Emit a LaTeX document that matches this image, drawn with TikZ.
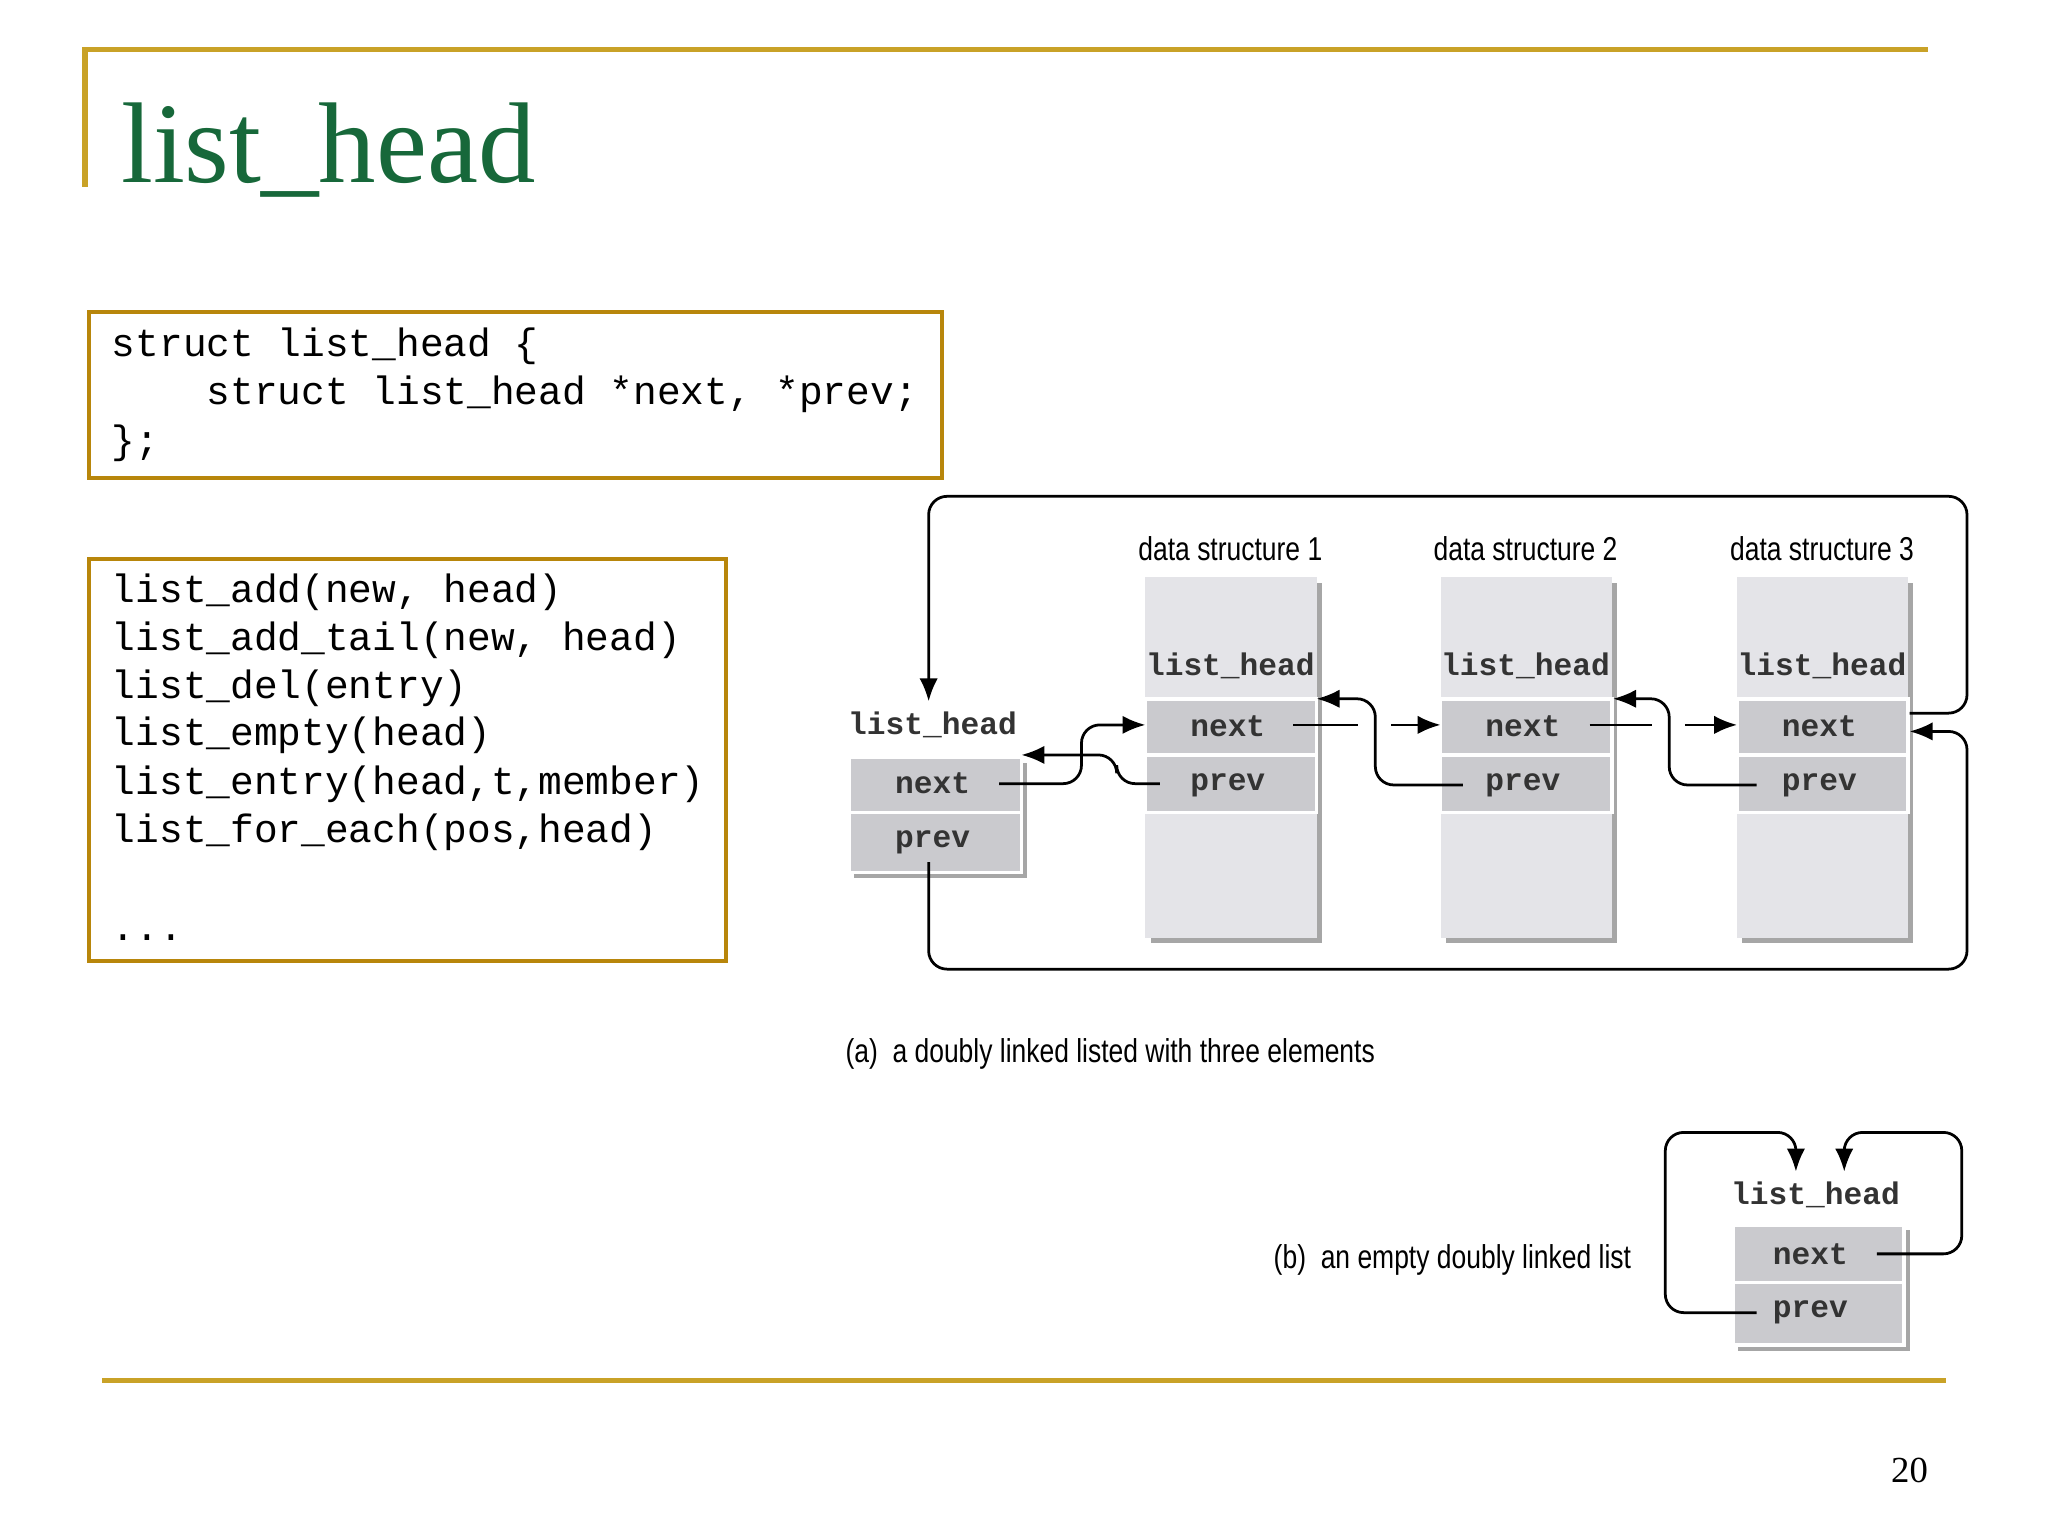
\documentclass[tikz,border=0pt]{standalone}
\usepackage{fontspec}
\setmainfont{Liberation Serif}
\newfontfamily\codefont{Liberation Mono}
\newfontfamily\figfont{Liberation Sans}[FakeStretch=0.8]
\usetikzlibrary{arrows.meta}
\definecolor{gold}{HTML}{C9A227}
\definecolor{boxline}{HTML}{B8860B}
\definecolor{titlegreen}{HTML}{17683A}
\definecolor{cellgray}{HTML}{CACACE}
\definecolor{colgray}{HTML}{E4E4E8}
\tikzset{
  code/.style={anchor=base west,font=\codefont\fontsize{8.6}{10}\selectfont,inner sep=0pt},
  lbl/.style={font=\figfont\fontsize{7.2}{9}\selectfont,inner sep=0pt},
  field/.style={font=\codefont\bfseries\fontsize{6.8}{8}\selectfont,inner sep=0pt,text=black!80},
  cell/.style={fill=cellgray,draw=white,line width=0.8pt},
  column/.style={fill=colgray,draw=none},
  link/.style={line width=0.6pt,rounded corners=4pt},
  arr/.style={link,-{Latex[length=5pt,width=4pt]}}
}
\begin{document}
\begin{tikzpicture}[x=0.01cm,y=-0.01cm]
	\useasboundingbox (0,0) rectangle (1568,1176);
	% frame lines
	\draw[gold,line width=1.2pt] (65,143)--(65,38)--(1476,38);
	\draw[gold,line width=1.2pt] (78,1057)--(1490,1057);
	\node[anchor=base west,text=titlegreen,font=\fontsize{25}{30}\selectfont,inner sep=0pt] (title) at (92,140) {list\_head};
	\node[anchor=base,font=\fontsize{8}{9}\selectfont] (page) at (1462,1135) {20};
	% code boxes
	\draw[boxline,line width=0.8pt] (68,239) rectangle (721,366);
	\node[code] (c1) at (85,273) {struct list\_head \{};
	\node[code] (c2) at (85,310) {\ \ \ \ struct list\_head *next, *prev;};
	\node[code] (c3) at (85,347) {\};};
	\draw[boxline,line width=0.8pt] (68,428) rectangle (556,736);
	\node[code] (f1) at (85,461) {list\_add(new, head)};
	\node[code] (f2) at (85,498) {list\_add\_tail(new, head)};
	\node[code] (f3) at (85,535) {list\_del(entry)};
	\node[code] (f4) at (85,571) {list\_empty(head)};
	\node[code] (f5) at (85,608) {list\_entry(head,t,member)};
	\node[code] (f6) at (85,645) {list\_for\_each(pos,head)};
	\node[code] (f7) at (85,720) {...};
	% (a) head node
	\fill[gray!70] (654,584) rectangle (786,672);
	\draw[cell] (650,580) rectangle (782,622);
	\draw[cell] (650,622) rectangle (782,668);
	\node[field] (hh) at (714,555) {list\_head};
	\node[field] (hn) at (714,600) {next};
	\node[field] (hp) at (714,645) {prev};
	% data structures
	\foreach \x/\n in {877/1,1103/2,1330/3}{
		\fill[gray!70] (\x+4,446) rectangle (\x+135,722);
		\fill[column] (\x,442) rectangle (\x+131,718);
		\draw[cell] (\x,535) rectangle (\x+131,578);
		\draw[cell] (\x,578) rectangle (\x+131,622);
		\node[lbl] (ds\n) at (\x+65,420) {data structure \n};
		\node[field] (lh\n) at (\x+65,510) {list\_head};
		\node[field] (nx\n) at (\x+63,556) {next};
		\node[field] (pv\n) at (\x+63,601) {prev};
	}
	% loops
	\draw[arr] (1462,546)--(1506,546)--(1506,380)--(711,380)--(711,537);
	\draw[arr] (711,660)--(711,742)--(1506,742)--(1506,560)--(1462,560);
	% links between nodes
	\draw[arr] (765,600)--(828,600)--(828,555)--(877,555);
	\draw[arr] (888,600)--(855,600)--(855,578)--(782,578);
	\draw[link] (990,555)--(1040,555);
	\draw[arr] (1065,555)--(1103,555);
	\draw[arr] (1120,601)--(1053,601)--(1053,535)--(1008,535);
	\draw[link] (1217,555)--(1265,555);
	\draw[arr] (1290,555)--(1330,555);
	\draw[arr] (1345,601)--(1278,601)--(1278,535)--(1235,535);
	\node[lbl] (capa) at (850,807) {(a)\ \ a doubly linked listed with three elements};
	% (b) empty list
	\fill[gray!70] (1331,942) rectangle (1462,1034);
	\draw[cell] (1327,938) rectangle (1458,982);
	\draw[cell] (1327,982) rectangle (1458,1030);
	\node[field] (bh) at (1390,915) {list\_head};
	\node[field] (bn) at (1386,960) {next};
	\node[field] (bp) at (1386,1005) {prev};
	\draw[arr] (1345,1005)--(1275,1005)--(1275,867)--(1375,867)--(1375,897);
	\draw[arr] (1437,960)--(1502,960)--(1502,867)--(1412,867)--(1412,897);
	\node[lbl] (capb) at (1112,965) {(b)\ \ an empty doubly linked list};
\end{tikzpicture}
\end{document}
